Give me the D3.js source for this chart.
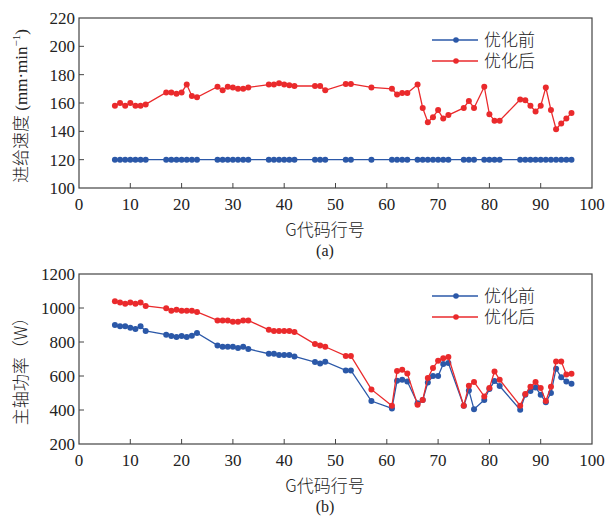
<!DOCTYPE html>
<html>
<head>
<meta charset="utf-8">
<script src="https://cdn.jsdelivr.net/npm/d3@7"></script>
<style>
  body { margin: 0; background: #fff; }
  svg text { font-family: "Liberation Serif", "Times New Roman", serif; fill: #222; }
  .cjk { font-family: "Noto Sans CJK SC", sans-serif; font-weight: 300; }
</style>
</head>
<body>
<div id="chart"></div>
<script>
// G-code line numbers (shared by both panels)
var lineNo = [7, 8, 9, 10, 11, 12, 13, 17, 18, 19, 20, 21, 22, 23,
  27, 28, 29, 30, 31, 32, 33, 37, 38, 39, 40, 41, 42, 46, 47, 48,
  52, 53, 57, 61, 62, 63, 64, 66, 67, 68, 69, 70, 71, 72, 75, 76, 77,
  79, 80, 81, 82, 86, 87, 88, 89, 90, 91, 92, 93, 94, 95, 96];

// (a) feed rate, mm/min
var feedBefore = lineNo.map(function() { return 120; });
var feedAfter = [158, 160, 158, 160, 158, 158, 159, 167.5, 167.5, 166.5, 167.5, 173, 165, 164,
  171.5, 169, 171.5, 171, 170, 170, 171, 173, 173, 174, 173, 172.5, 172, 172, 172, 169,
  173.5, 173.5, 171, 170, 166, 167, 167, 173, 156.5, 146.5, 150, 155, 149, 151.5, 156.5, 161.5, 156.5,
  171.5, 152, 147.5, 147.5, 162.5, 162, 158, 154, 158, 171, 155, 141.5, 145.5, 149, 153];

// (b) spindle power, W
var powerBefore = [900, 892, 892, 884, 876, 892, 865, 843, 835, 829, 835, 829, 837, 853,
  780, 772, 772, 772, 765, 772, 759, 731, 731, 723, 723, 723, 715, 682, 674, 684,
  633, 633, 453, 409, 572, 578, 568, 439, 459, 562, 600, 600, 670, 676, 425, 515, 404,
  459, 523, 570, 541, 402, 490, 512, 533, 490, 445, 500, 643, 592, 568, 555];
var powerAfter = [1039, 1033, 1025, 1033, 1025, 1033, 1012, 998, 984, 990, 984, 984, 984, 977,
  927, 927, 927, 919, 919, 927, 927, 872, 865, 865, 865, 865, 859, 788, 780, 772,
  718, 718, 521, 425, 629, 637, 614, 431, 459, 588, 647, 690, 704, 712, 425, 543, 565,
  480, 529, 627, 578, 425, 494, 537, 565, 529, 453, 537, 686, 686, 609, 613];

var xTicks = [0, 10, 20, 30, 40, 50, 60, 70, 80, 90, 100];
var feedTicks = [100, 120, 140, 160, 180, 200, 220];
var powerTicks = [200, 400, 600, 800, 1000, 1200];
var seriesNames = ["优化前", "优化后"];
var colors = ["#2b58a8", "#ea2a2c"];

var svg = d3.select("#chart").append("svg")
  .attr("width", 609)
  .attr("height", 516);

var x = d3.scaleLinear().domain([0, 100]).range([79, 592]);

function drawPanel(opt) {
  var y = d3.scaleLinear().domain(opt.domain).range([opt.bottom, opt.top]);
  var g = svg.append("g");

  // frame
  g.append("rect")
    .attr("x", x(0)).attr("y", opt.top)
    .attr("width", x(100) - x(0)).attr("height", opt.bottom - opt.top)
    .attr("fill", "none").attr("stroke", "#444").attr("stroke-width", 1.2);

  // x ticks (inward)
  g.selectAll(".xt").data(xTicks.slice(1, -1)).enter().append("line")
    .attr("x1", function(d) { return x(d); }).attr("x2", function(d) { return x(d); })
    .attr("y1", opt.bottom).attr("y2", opt.bottom - 5)
    .attr("stroke", "#444");
  g.selectAll(".xl").data(xTicks).enter().append("text")
    .attr("x", function(d) { return x(d); })
    .attr("y", opt.bottom + 22)
    .attr("text-anchor", "middle")
    .attr("font-size", 17)
    .text(function(d) { return d; });

  // y ticks (inward)
  g.selectAll(".yt").data(opt.ticks.slice(1, -1)).enter().append("line")
    .attr("x1", x(0)).attr("x2", x(0) + 5)
    .attr("y1", function(d) { return y(d); }).attr("y2", function(d) { return y(d); })
    .attr("stroke", "#444");
  g.selectAll(".yl").data(opt.ticks).enter().append("text")
    .attr("x", x(0) - 4)
    .attr("y", function(d) { return y(d) + 6; })
    .attr("text-anchor", "end")
    .attr("font-size", 17)
    .text(function(d) { return d; });

  // axis titles
  g.append("text").attr("class", "cjk")
    .attr("x", 325).attr("y", opt.bottom + 48)
    .attr("text-anchor", "middle").attr("font-size", 17)
    .text("G代码行号");
  g.append("text")
    .attr("x", 325).attr("y", opt.bottom + 68)
    .attr("text-anchor", "middle").attr("font-size", 16)
    .text(opt.tag);

  opt.yTitle(g.append("text")
    .attr("transform", "translate(27," + opt.yMid + ") rotate(-90)")
    .attr("text-anchor", "middle").attr("font-size", 17));

  // series
  var line = d3.line()
    .x(function(d) { return x(d[0]); })
    .y(function(d) { return y(d[1]); });

  opt.series.forEach(function(vals, i) {
    var pts = lineNo.map(function(n, k) { return [n, vals[k]]; });
    g.append("path").datum(pts)
      .attr("d", line)
      .attr("fill", "none")
      .attr("stroke", colors[i])
      .attr("stroke-width", 1.3);
    g.selectAll(".dot" + i).data(pts).enter().append("circle")
      .attr("cx", function(d) { return x(d[0]); })
      .attr("cy", function(d) { return y(d[1]); })
      .attr("r", 3)
      .attr("fill", colors[i]);
  });

  // legend
  seriesNames.forEach(function(name, i) {
    var ly = opt.legendY + i * 21;
    g.append("line")
      .attr("x1", 432).attr("x2", 478)
      .attr("y1", ly).attr("y2", ly)
      .attr("stroke", colors[i]).attr("stroke-width", 1.3);
    g.append("circle")
      .attr("cx", 456).attr("cy", ly).attr("r", 2.8)
      .attr("fill", colors[i]);
    g.append("text").attr("class", "cjk")
      .attr("x", 484).attr("y", ly + 6)
      .attr("font-size", 17)
      .text(name);
  });
}

drawPanel({
  domain: [100, 220], top: 18, bottom: 188, ticks: feedTicks,
  series: [feedBefore, feedAfter], legendY: 40, tag: "(a)", yMid: 106,
  yTitle: function(t) {
    t.append("tspan").attr("class", "cjk").text("进给速度");
    t.append("tspan").text(" (mm·min");
    t.append("tspan").attr("font-size", 11).attr("dy", -7).text("−1");
    t.append("tspan").attr("dy", 7).text(")");
  }
});

drawPanel({
  domain: [200, 1200], top: 274, bottom: 444, ticks: powerTicks,
  series: [powerBefore, powerAfter], legendY: 296, tag: "(b)", yMid: 367,
  yTitle: function(t) {
    t.attr("class", "cjk").text("主轴功率（W）");
  }
});
</script>
</body>
</html>
